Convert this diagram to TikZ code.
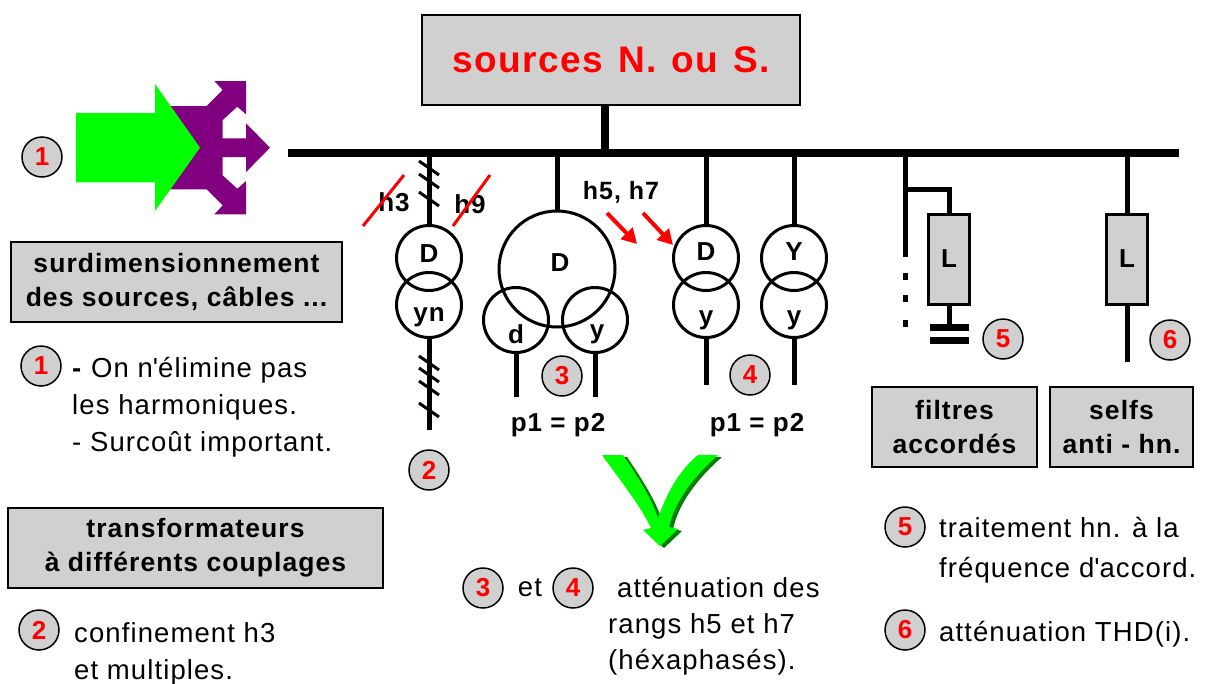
\documentclass[tikz,border=0pt]{standalone}
\usepackage{fontspec}
\setmainfont{Liberation Sans}[LetterSpace=4]
\usetikzlibrary{arrows.meta}
\definecolor{boxgray}{RGB}{208,208,208}
\definecolor{vgreen}{RGB}{0,255,0}
\definecolor{dgreen}{RGB}{0,128,0}
\definecolor{prpl}{RGB}{128,0,128}

\begin{document}
\begin{tikzpicture}[x=1pt,y=-1pt,
  wire/.style={line width=5pt},
  winding/.style={draw,circle,line width=3pt,minimum size=65pt,inner sep=0pt},
  lbl/.style={inner sep=0pt,font=\bfseries\fontsize{26}{28}\selectfont},
  numtag/.style={draw,circle,fill=boxgray,line width=1.5pt,minimum size=40pt,inner sep=0pt,
    text=red,font=\bfseries\fontsize{26}{28}\selectfont},
  legend/.style={draw,fill=boxgray,line width=2pt,minimum height=80pt,align=center,
    font=\bfseries\fontsize{26.5}{34}\selectfont},
  note/.style={anchor=north west,align=left,inner sep=0pt,font=\fontsize{27.5}{37}\selectfont},
  hash/.style={line width=3pt},
  strike/.style={red,line width=3pt},
  reactor/.style={draw,fill=boxgray,line width=3pt,minimum width=41pt,minimum height=90pt,
    inner sep=0pt,font=\bfseries\fontsize{26}{28}\selectfont},
  harrow/.style={red,line width=4pt,-{Triangle[length=15pt,width=16pt]}}]
\useasboundingbox (0,0) rectangle (1205,683);

% sources et jeu de barres
\node[draw,fill=boxgray,line width=2pt,minimum width=378pt,minimum height=90pt,
  text=red,font=\bfseries\fontsize{37}{40}\selectfont] (src) at (611,60)
  {sources\hspace{15pt}N.\hspace{15pt}ou\hspace{15pt}S.};
\coordinate (bw) at (288,153);
\coordinate (be) at (1179,153);
\draw[line width=8pt] (bw) -- (be);
\draw[line width=8pt] (src.south -| 605,0) -- (605,153);

% 1 : surdimensionnement (flèches)
\fill[prpl] (170,106) -- (206.7,106) -- (222.7,90) -- (214.3,81) -- (246,81) -- (246,114.3)
  -- (237.3,106.7) -- (222.7,120) -- (222.7,138.3) -- (246,138.3) -- (246,123.3) -- (270,147.7)
  -- (246,172.1) -- (246,157.1) -- (222.7,157.1) -- (222.7,175.4) -- (237.3,188.7) -- (246,181.1)
  -- (246,214.4) -- (214.3,214.4) -- (222.7,205.4) -- (206.7,189.4) -- (170,189.4) -- cycle;
\fill[vgreen] (76,113) -- (155,113) -- (155,84) -- (200,147.7) -- (155,211) -- (155,182.4)
  -- (76,182.4) -- cycle;
\node[numtag] (n1) at (42,157) {1};

% 2 : transfo D/yn
\node[winding] (t2p) at (429,258) {};
\node[winding] (t2s) at (429,305) {};
\draw[wire] (429,153) -- (t2p.north);
\draw[wire] (t2s.south) -- (429,430);
\node[lbl] (t2pl) at (429,254) {D};
\node[lbl] (t2sl) at (429,317) {yn};
\foreach \y in {168,181,199}{
  \draw[hash] (419,\y-7) -- (439,\y+7);
}
\foreach \y in {363,375,388,410}{
  \draw[hash] (419,\y-7) -- (439,\y+7);
}
\node[lbl] (h3) at (394,202) {h3};
\draw[strike] (363,226) -- (404,175);
\node[lbl] (h9) at (470,204) {h9};
\draw[strike] (453,226) -- (490,175);
\node[numtag] (n2) at (429,470) {2};

% 3 : transfo D/dy
\node[winding,minimum size=116pt] (t3p) at (557,269) {};
\node[winding] (t3d) at (516,320) {};
\node[winding] (t3y) at (595,320) {};
\draw[wire] (557,153) -- (t3p.north);
\draw[wire] (t3d.south) -- (516,397);
\draw[wire] (t3y.south) -- (595,397);
\node[lbl] (t3pl) at (560,263) {D};
\node[lbl] (t3dl) at (516,334) {d};
\node[lbl] (t3yl) at (597,334) {y};
\node[numtag] (n3) at (562,376) {3};
\node[lbl] (p3) at (558,425) {p1 = p2};

% h5, h7
\node[lbl,font=\bfseries\fontsize{25}{28}\selectfont] (h57) at (621,192) {h5, h7};
\draw[harrow] (607,213) -- (637,244);
\draw[harrow] (643,213) -- (673,245);

% 4 : transfos D/y et Y/y
\foreach \x/\p/\nm in {706/D/a,794/Y/b}{
  \node[winding] (t4\nm p) at (\x,258) {};
  \node[winding] (t4\nm s) at (\x,305) {};
  \draw[wire] (\x,153) -- (t4\nm p.north);
  \draw[wire] (t4\nm s.south) -- (\x,385);
  \node[lbl] (t4\nm pl) at (\x,252) {\p};
  \node[lbl] (t4\nm sl) at (\x,320) {y};
}
\node[numtag] (n4) at (750,375) {4};
\node[lbl] (p4) at (757,425) {p1 = p2};

% 5 : filtre accordé
\draw[wire] (905,153) -- (905,257);
\foreach \y in {273,295,320}{
  \draw[wire] (905,\y) -- (905,\y+7);
}
\node[reactor] (lf) at (949,259) {L};
\draw[wire] (905,189) -| (lf.north);
\draw[wire] (lf.south) -- (949,324);
\fill (930,324) rectangle (969,331);
\fill (930,337) rectangle (969,344);
\node[numtag] (n5) at (1003,339) {5};

% 6 : self anti-harmoniques
\node[reactor] (ls) at (1127,259) {L};
\draw[wire] (1127,153) -- (ls.north);
\draw[wire] (ls.south) -- (1127,362);
\node[numtag] (n6) at (1170,340) {6};

% cadres de légende
\node[legend,minimum width=331pt] (surdim) at (176.5,282) {surdimensionnement\\des sources, câbles ...};
\node[legend,minimum width=375pt] (transfo) at (195.5,548) {transformateurs\\à différents couplages};
\node[legend,minimum width=165pt] (filt) at (954.5,427) {filtres\\accordés};
\node[legend,minimum width=143pt] (selfs) at (1121.5,427) {selfs\\anti - hn.};

% commentaires
\node[numtag] (n1b) at (41,366) {1};
\node[note] (c1) at (72,357) {\textbf{-} On n\textquotesingle élimine pas\\les harmoniques.\\- Surcoût important.};
\node[numtag] (n2b) at (39,630) {2};
\node[note] (c2) at (74,622) {confinement h3\\et multiples.};
\node[numtag] (n3b) at (483,588) {3};
\node[inner sep=0pt,font=\fontsize{27.5}{28}\selectfont] (et) at (530,588) {et};
\node[numtag] (n4b) at (573,588) {4};
\node[note,font=\fontsize{27.5}{36}\selectfont] (c34) at (608,577)
  {\hspace{9pt}atténuation des\\rangs h5 et h7\\(héxaphasés).};
\node[numtag] (n5b) at (905,527) {5};
\node[note,font=\fontsize{27.5}{40}\selectfont] (c5) at (939,517)
  {traitement hn. à la\\fréquence d\textquotesingle accord.};
\node[numtag] (n6b) at (905,630) {6};
\node[note] (c6) at (939,621) {atténuation THD(i).};

% flèche verte
\fill[dgreen] (606,457) -- (627,457) .. controls (644,482) and (656,502) .. (662,520)
  .. controls (672,492) and (684,472) .. (702,457) -- (722,457)
  .. controls (699,477) and (679,502) .. (673,529) -- (682,531) -- (664,548) -- (647,532)
  -- (655,530) .. controls (644,507) and (624,482) .. (606,457) -- cycle;
\fill[vgreen] (602,455) -- (623,455) .. controls (640,480) and (652,500) .. (658,518)
  .. controls (668,490) and (680,470) .. (698,455) -- (718,455)
  .. controls (695,475) and (675,500) .. (669,527) -- (678,529) -- (660,546) -- (643,530)
  -- (651,528) .. controls (640,505) and (620,480) .. (602,455) -- cycle;
\end{tikzpicture}
\end{document}
